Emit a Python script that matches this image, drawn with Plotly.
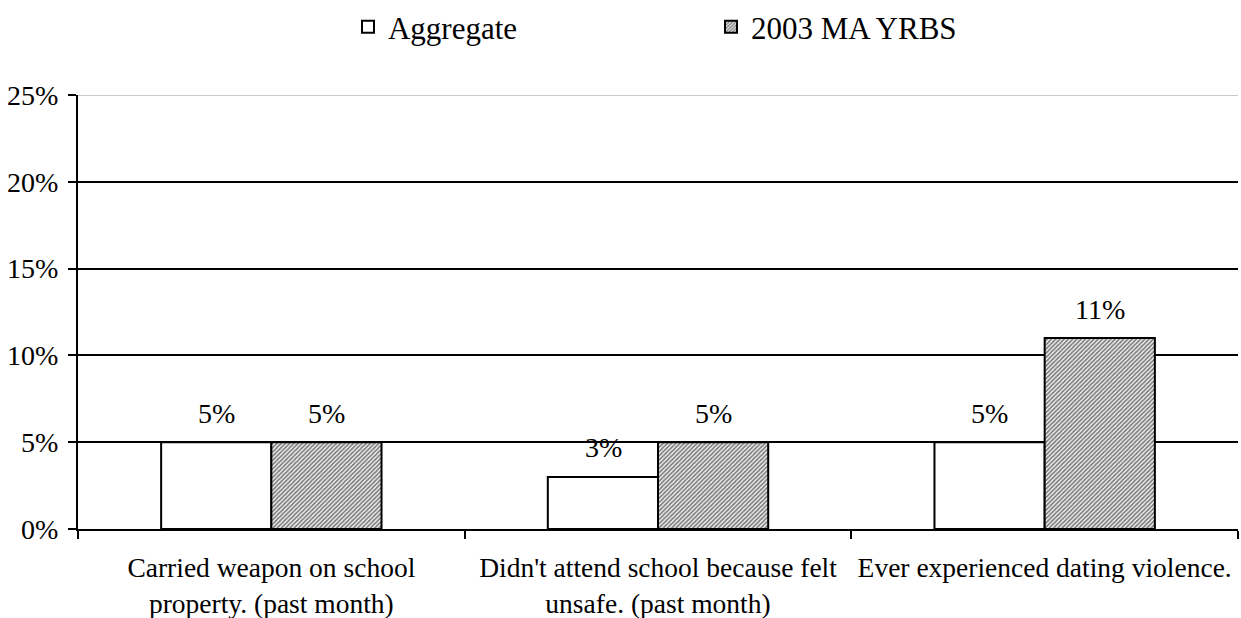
import plotly.graph_objects as go

categories = ["Carried weapon on school<br>property. (past month)",
              "Didn't attend school because felt<br>unsafe. (past month)",
              "Ever experienced dating violence."]
aggregate = [5, 3, 5]
yrbs = [5, 5, 11]
y_ticks = [0, 5, 10, 15, 20, 25]

FONT = '"Liberation Serif", "Times New Roman", Times, serif'

t1 = go.Bar(x=categories, y=aggregate, name="Aggregate", offsetgroup="a",
            marker=dict(color="white", line=dict(color="black", width=2)))
t2 = go.Bar(x=categories, y=yrbs, name="2003 MA YRBS", offsetgroup="b",
            marker=dict(color="white", line=dict(color="black", width=2),
                        pattern=dict(shape="/", fgcolor="black", bgcolor="white",
                                     size=3, solidity=0.6)))

fig = go.Figure(data=[t1, t2])
fig.update_layout(
    width=1241, height=618,
    margin=dict(l=78, r=3, t=95, b=89, autoexpand=False),
    paper_bgcolor="white", plot_bgcolor="white",
    font=dict(family=FONT, size=28, color="black"),
    barmode="group", bargap=0.43, bargroupgap=0,
    showlegend=True,
    legend=dict(orientation="h", xref="container", x=0.2804, xanchor="left",
                yref="container", y=0.956, yanchor="middle",
                entrywidth=318, font=dict(family=FONT, size=31)),
)
# value labels above the bars (Excel placed them a bit higher than plotly's default)
for i, c in enumerate(categories):
    for vals, shift in ((aggregate, -0.5), (yrbs, 0.5)):
        fig.add_annotation(x=c, y=vals[i], text=f"{vals[i]}%", showarrow=False,
                           xref="x", yref="y", xshift=shift * 110, yshift=29,
                           yanchor="middle", font=dict(family=FONT, size=28))

fig.update_xaxes(showline=True, linecolor="black", linewidth=2, automargin=False,
                 ticks="outside", tickson="boundaries", ticklen=8, tickwidth=2,
                 tickcolor="black", showgrid=False, ticklabelstandoff=13,
                 tickfont=dict(family=FONT, size=27.5))
fig.update_yaxes(range=[0, 25], tickvals=y_ticks, ticktext=[f"{v}%" for v in y_ticks],
                 showline=True, linecolor="black", linewidth=2, automargin=False,
                 ticks="outside", ticklen=8, tickwidth=2, tickcolor="black",
                 showgrid=True, gridcolor="black", gridwidth=2, zeroline=False,
                 ticklabelstandoff=4, tickfont=dict(family=FONT, size=28))
# top gridline is light gray in the reference
fig.add_shape(type="line", xref="paper", x0=0, x1=1, yref="y", y0=25, y1=25,
              line=dict(color="#c8c8c8", width=2), layer="above")

# drop the default page margin so the figure sits at the window origin
fig.write_html("out.html", config={"displayModeBar": False},
               post_script="document.body.style.margin='0';")
